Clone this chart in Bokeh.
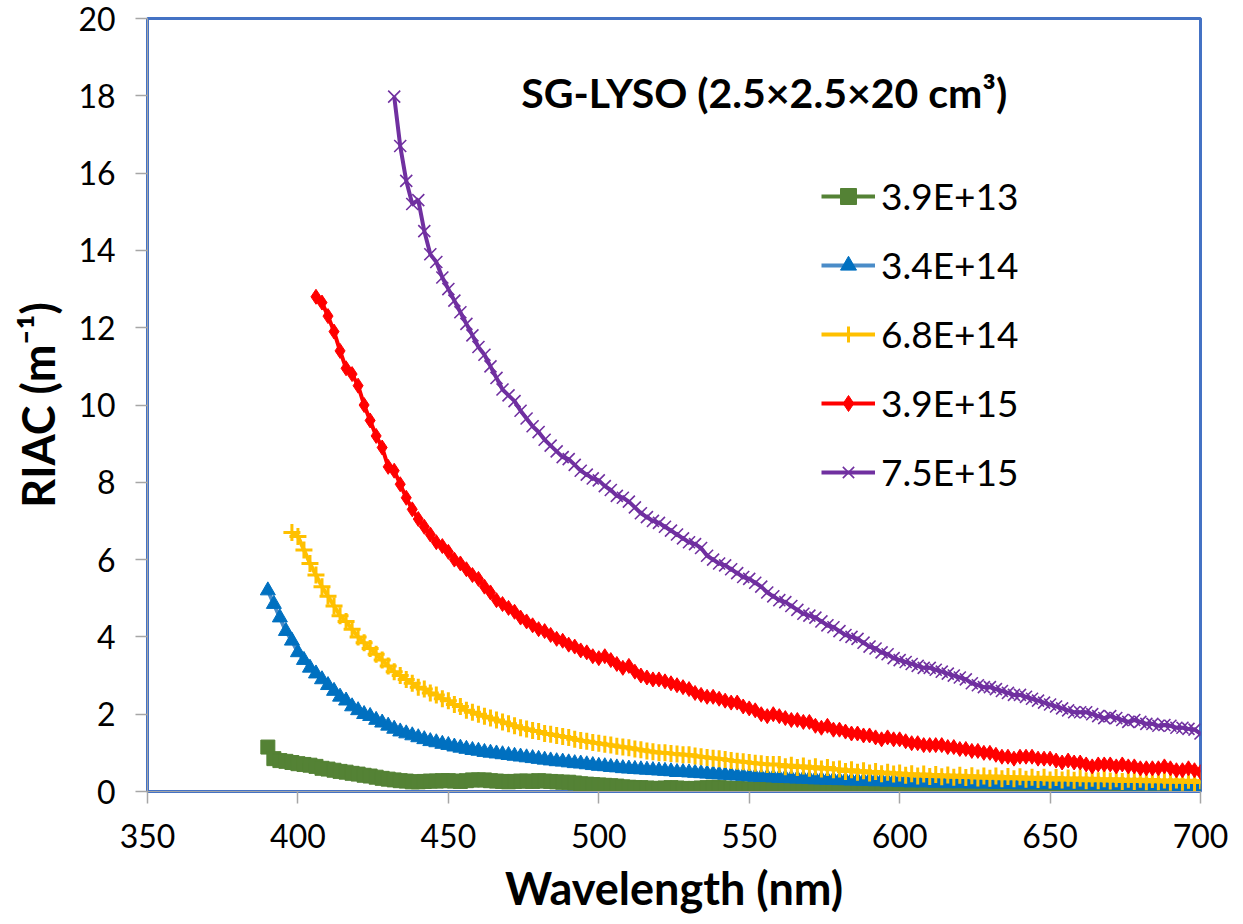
from bokeh.plotting import figure
from bokeh.models import Label, Legend, LegendItem, FixedTicker
from bokeh.embed import file_html
from bokeh.resources import INLINE

STEP = 2
series_names = ["3.9E+13", "3.4E+14", "6.8E+14", "3.9E+15", "7.5E+15"]
series_start = [390, 390, 398, 406, 432]

riac_39e13 = [
    1.15, 0.85, 0.80, 0.78, 0.75, 0.72, 0.70, 0.68, 0.65, 0.60,
    0.58, 0.55, 0.52, 0.50, 0.47, 0.45, 0.42, 0.40, 0.37, 0.34,
    0.32, 0.30, 0.28, 0.27, 0.25, 0.25, 0.26, 0.27, 0.27, 0.28,
    0.28, 0.27, 0.26, 0.28, 0.30, 0.30, 0.30, 0.28, 0.27, 0.26,
    0.25, 0.26, 0.27, 0.27, 0.26, 0.28, 0.27, 0.26, 0.25, 0.24,
    0.24, 0.22, 0.20, 0.19, 0.18, 0.17, 0.16, 0.15, 0.14, 0.12,
    0.11, 0.10, 0.10, 0.09, 0.08, 0.08, 0.09, 0.10, 0.09, 0.08,
    0.07, 0.08, 0.09, 0.10, 0.11, 0.10, 0.09, 0.08, 0.08, 0.07,
    0.06, 0.07, 0.08, 0.09, 0.10, 0.09, 0.08, 0.07, 0.06, 0.06,
    0.07, 0.08, 0.07, 0.06, 0.05, 0.06, 0.07, 0.08, 0.09, 0.08,
    0.07, 0.06, 0.05, 0.05, 0.06, 0.07, 0.08, 0.07, 0.06, 0.05,
    0.04, 0.05, 0.06, 0.07, 0.06, 0.05, 0.05, 0.06, 0.07, 0.08,
    0.07, 0.06, 0.05, 0.04, 0.04, 0.05, 0.06, 0.05, 0.04, 0.04,
    0.05, 0.06, 0.05, 0.04, 0.03, 0.04, 0.05, 0.06, 0.05, 0.04,
    0.04, 0.05, 0.06, 0.05, 0.04, 0.03, 0.04, 0.05, 0.05, 0.04,
    0.04, 0.05, 0.06, 0.05, 0.04, 0.04,
]
riac_34e14 = [
    5.20, 4.85, 4.50, 4.15, 3.90, 3.60, 3.40, 3.20, 3.05, 2.90,
    2.75, 2.60, 2.45, 2.35, 2.20, 2.10, 2.00, 1.95, 1.85, 1.78,
    1.70, 1.62, 1.55, 1.50, 1.45, 1.40, 1.35, 1.30, 1.27, 1.23,
    1.20, 1.16, 1.13, 1.10, 1.07, 1.05, 1.02, 1.00, 0.98, 0.96,
    0.94, 0.92, 0.90, 0.88, 0.86, 0.84, 0.82, 0.80, 0.78, 0.77,
    0.75, 0.73, 0.72, 0.70, 0.68, 0.66, 0.65, 0.63, 0.62, 0.60,
    0.59, 0.58, 0.57, 0.56, 0.55, 0.54, 0.53, 0.52, 0.50, 0.50,
    0.49, 0.48, 0.47, 0.46, 0.45, 0.44, 0.43, 0.42, 0.41, 0.40,
    0.39, 0.38, 0.37, 0.37, 0.36, 0.35, 0.35, 0.34, 0.33, 0.33,
    0.32, 0.31, 0.31, 0.30, 0.30, 0.29, 0.29, 0.28, 0.28, 0.27,
    0.29, 0.26, 0.28, 0.25, 0.27, 0.24, 0.27, 0.23, 0.26, 0.23,
    0.25, 0.22, 0.24, 0.21, 0.24, 0.21, 0.23, 0.20, 0.23, 0.20,
    0.22, 0.19, 0.22, 0.19, 0.21, 0.18, 0.21, 0.18, 0.20, 0.18,
    0.20, 0.17, 0.20, 0.17, 0.19, 0.17, 0.19, 0.16, 0.19, 0.16,
    0.18, 0.16, 0.18, 0.15, 0.18, 0.15, 0.17, 0.15, 0.17, 0.15,
    0.17, 0.14, 0.16, 0.14, 0.16, 0.13,
]
riac_68e14 = [
    6.70, 6.60, 6.25, 5.90, 5.60, 5.30, 5.05, 4.80, 4.55, 4.40,
    4.20, 4.00, 3.85, 3.70, 3.55, 3.40, 3.25, 3.10, 3.00, 2.90,
    2.80, 2.70, 2.65, 2.55, 2.50, 2.40, 2.35, 2.25, 2.20, 2.10,
    2.05, 2.00, 1.95, 1.90, 1.85, 1.80, 1.75, 1.70, 1.65, 1.62,
    1.58, 1.55, 1.50, 1.48, 1.45, 1.42, 1.40, 1.35, 1.32, 1.30,
    1.27, 1.25, 1.22, 1.20, 1.17, 1.15, 1.13, 1.10, 1.08, 1.05,
    1.03, 1.00, 1.00, 0.98, 0.97, 0.95, 0.95, 0.92, 0.90, 0.88,
    0.86, 0.85, 0.83, 0.80, 0.78, 0.77, 0.75, 0.73, 0.72, 0.70,
    0.70, 0.70, 0.64, 0.68, 0.62, 0.66, 0.60, 0.64, 0.58, 0.62,
    0.56, 0.58, 0.52, 0.56, 0.50, 0.54, 0.48, 0.52, 0.46, 0.50,
    0.45, 0.48, 0.42, 0.46, 0.40, 0.45, 0.39, 0.44, 0.38, 0.43,
    0.37, 0.42, 0.36, 0.41, 0.35, 0.40, 0.34, 0.40, 0.33, 0.39,
    0.33, 0.38, 0.32, 0.37, 0.31, 0.37, 0.30, 0.36, 0.30, 0.35,
    0.29, 0.35, 0.28, 0.34, 0.28, 0.33, 0.27, 0.33, 0.26, 0.32,
    0.26, 0.32, 0.25, 0.31, 0.25, 0.30, 0.24, 0.30, 0.24, 0.29,
    0.23, 0.28,
]
riac_39e15 = [
    12.80, 12.65, 12.30, 11.90, 11.40, 10.95, 10.80, 10.50, 10.00, 9.60,
    9.20, 8.90, 8.40, 8.30, 7.95, 7.60, 7.30, 7.05, 6.85, 6.65,
    6.45, 6.35, 6.20, 6.00, 5.90, 5.75, 5.60, 5.50, 5.30, 5.15,
    4.95, 4.85, 4.75, 4.65, 4.50, 4.40, 4.30, 4.20, 4.15, 4.05,
    3.95, 3.90, 3.80, 3.75, 3.65, 3.60, 3.50, 3.45, 3.50, 3.40,
    3.30, 3.20, 3.25, 3.10, 3.00, 2.95, 2.90, 2.90, 2.85, 2.80,
    2.75, 2.70, 2.65, 2.55, 2.50, 2.45, 2.45, 2.40, 2.35, 2.30,
    2.30, 2.20, 2.15, 2.10, 2.00, 1.95, 2.00, 1.95, 1.90, 1.85,
    1.85, 1.80, 1.80, 1.70, 1.65, 1.70, 1.60, 1.60, 1.55, 1.50,
    1.50, 1.45, 1.45, 1.40, 1.35, 1.40, 1.35, 1.35, 1.30, 1.25,
    1.25, 1.20, 1.20, 1.20, 1.20, 1.15, 1.15, 1.10, 1.10, 1.05,
    1.05, 1.00, 1.00, 0.95, 0.90, 0.90, 0.85, 0.90, 0.90, 0.90,
    0.85, 0.85, 0.85, 0.80, 0.75, 0.80, 0.75, 0.75, 0.70, 0.65,
    0.70, 0.70, 0.70, 0.65, 0.70, 0.65, 0.65, 0.60, 0.60, 0.60,
    0.60, 0.65, 0.60, 0.55, 0.55, 0.60, 0.55, 0.50,
]
riac_75e15 = [
    17.98, 16.70, 15.80, 15.20, 15.30, 14.50, 13.90, 13.70, 13.30, 13.00,
    12.70, 12.40, 12.10, 11.80, 11.50, 11.30, 11.00, 10.70, 10.40, 10.25,
    10.10, 9.85, 9.65, 9.45, 9.30, 9.10, 8.95, 8.80, 8.65, 8.60,
    8.45, 8.30, 8.20, 8.10, 8.05, 7.90, 7.80, 7.65, 7.60, 7.50,
    7.35, 7.20, 7.10, 7.00, 6.95, 6.85, 6.75, 6.65, 6.55, 6.45,
    6.40, 6.30, 6.10, 6.00, 5.90, 5.85, 5.75, 5.65, 5.55, 5.50,
    5.40, 5.30, 5.15, 5.05, 4.95, 4.90, 4.80, 4.70, 4.60, 4.55,
    4.50, 4.40, 4.30, 4.25, 4.15, 4.05, 4.00, 3.95, 3.85, 3.75,
    3.70, 3.60, 3.55, 3.45, 3.40, 3.35, 3.30, 3.25, 3.20, 3.20,
    3.15, 3.10, 3.05, 3.00, 2.95, 2.90, 2.80, 2.75, 2.70, 2.70,
    2.65, 2.60, 2.55, 2.50, 2.50, 2.45, 2.40, 2.35, 2.30, 2.25,
    2.20, 2.15, 2.10, 2.05, 2.05, 2.05, 2.00, 1.95, 1.90, 1.95,
    1.90, 1.85, 1.80, 1.85, 1.80, 1.75, 1.75, 1.70, 1.72, 1.70,
    1.65, 1.65, 1.62, 1.60, 1.50,
]
series_values = [riac_39e13, riac_34e14, riac_68e14, riac_39e15, riac_75e15]

line_colors = ["#548235", "#4A8CC8", "#FFC000", "#FF0000", "#7030A0"]
marker_colors = ["#548235", "#0070C0", "#FFC000", "#FF0000", "#7030A0"]
markers = ["square", "triangle", "cross", "diamond", "x"]
marker_sizes = [14, 15, 17, 15, 17]
marker_widths = [1, 1, 3, 1, 1.6]

x_ticks = [350, 400, 450, 500, 550, 600, 650, 700]
y_ticks = [0, 2, 4, 6, 8, 10, 12, 14, 16, 18, 20]

FONT = "Lato"

p = figure(width=1243, height=924, frame_width=1053, frame_height=773,
           min_border_left=147, min_border_right=43, min_border_top=18, min_border_bottom=133,
           x_range=(350, 700), y_range=(0, 20),
           output_backend="svg", toolbar_location=None, background_fill_color="white",
           border_fill_color="white")
p.grid.visible = False
p.outline_line_color = "#4472C4"
p.outline_line_width = 3

for ax in (p.xaxis[0], p.yaxis[0]):
    ax.axis_line_color = "#A6A6A6"
    ax.major_tick_line_color = "#A6A6A6"
    ax.major_tick_line_width = 1.5
    ax.major_tick_out = 12
    ax.major_tick_in = 0
    ax.minor_tick_line_color = None
    ax.major_label_text_font = FONT
    ax.major_label_text_font_size = "32px"
    ax.major_label_text_color = "black"
    ax.axis_label_text_font = FONT
    ax.axis_label_text_font_size = "45px"
    ax.axis_label_text_font_style = "bold"
    ax.axis_label_text_color = "black"

p.xaxis.ticker = FixedTicker(ticks=x_ticks)
p.yaxis.ticker = FixedTicker(ticks=y_ticks)
p.xaxis.axis_label = "Wavelength (nm)"
p.yaxis.axis_label = "RIAC (m\u207b\u00b9)"
p.xaxis.major_label_standoff = 20
p.yaxis.major_label_standoff = 20
p.xaxis.axis_label_standoff = 10
p.yaxis.axis_label_standoff = 10

items = []
for name, start, vals, lc, mc, mk, ms, mw in zip(series_names, series_start, series_values,
                                               line_colors, marker_colors, markers,
                                               marker_sizes, marker_widths):
    xs = [start + STEP * i for i in range(len(vals))]
    r1 = p.line(xs, vals, line_color=lc, line_width=4)
    if mk in ("cross", "x"):
        r2 = p.scatter(xs, vals, marker=mk, size=ms, line_color=mc, line_width=mw)
    else:
        r2 = p.scatter(xs, vals, marker=mk, size=ms, fill_color=mc, line_color=mc)
    items.append(LegendItem(label=name, renderers=[r1, r2]))

legend = Legend(items=items, location=(674, 297), orientation="vertical",
                label_text_font=FONT, label_text_font_size="37px", label_text_color="black",
                glyph_width=54, glyph_height=40, label_height=40, spacing=24,
                label_standoff=6, padding=0, margin=0,
                border_line_color=None, background_fill_alpha=0)
p.add_layout(legend)

title = Label(x=555, y=18.08, text="SG-LYSO (2.5\u00d72.5\u00d720 cm\u00b3)",
              text_font=FONT, text_font_size="41px", text_font_style="bold",
              text_align="center", text_baseline="alphabetic", text_color="black")
p.add_layout(title)

open("out.html", "w").write(file_html(p, INLINE))
